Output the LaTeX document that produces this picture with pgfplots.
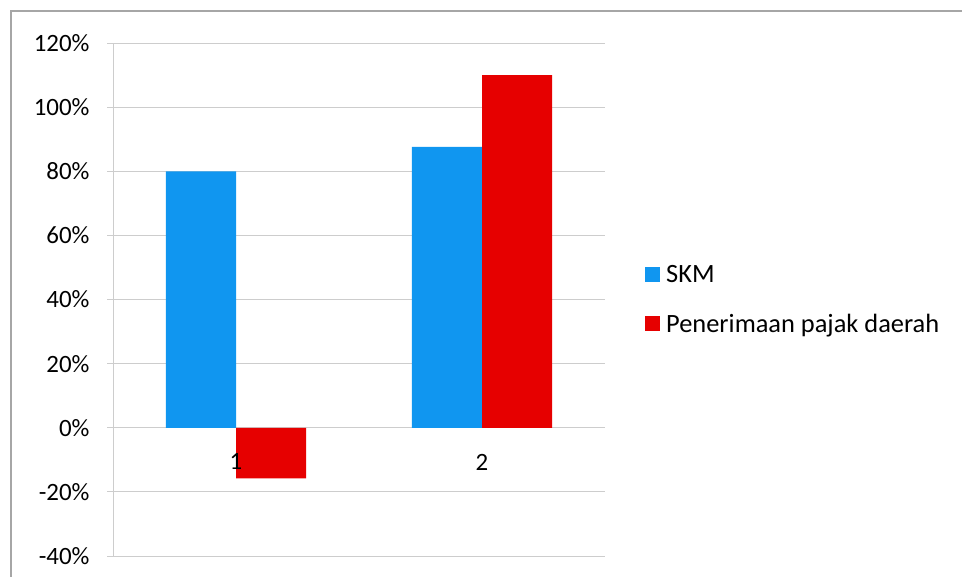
\documentclass[border=0pt]{standalone}
\usepackage{pgfplots}
\pgfplotsset{compat=1.18}
\usepackage{fontspec}
\setmainfont{Carlito}
\definecolor{skmblue}{RGB}{16,150,240}
\definecolor{pajakred}{RGB}{230,0,0}
\definecolor{gridgray}{RGB}{205,205,205}
\begin{document}
\begin{tikzpicture}[x=1bp,y=1bp]
\path[use as bounding box] (0,0) rectangle (962,-577);
% chart area frame (top and left edges)
\draw[gray!70, line width=1.6bp] (11,-600) -- (11,-11) -- (970,-11);
\begin{axis}[
  at={(113bp,-556bp)}, anchor=south west,
  scale only axis, width=492bp, height=513bp,
  xmin=0.5, xmax=2.5, ymin=-40, ymax=120,
  axis x line=middle, axis y line=left,
  axis line style={draw=gridgray, line width=0.8bp, -},
  x axis line style={draw=none},
  xtick={1,2}, xticklabels={},
  xtick style={draw=none},
  ytick={-40,-20,0,20,40,60,80,100,120},
  yticklabel={\pgfmathprintnumber{\tick}\%},
  yticklabel style={font=\fontsize{25}{30}\selectfont, xshift=-14bp},
  /pgf/number format/assume math mode=true,
  ytick style={draw=gridgray, line width=0.8bp},
  tick align=outside, major tick length=6bp,
  ymajorgrids, grid style={draw=gridgray, line width=0.8bp},
  clip=false,
  legend style={at={(axis cs:2.5,40)}, anchor=west, xshift=40bp,
    draw=none, fill=none, inner sep=0pt,
    font=\fontsize{26.5}{30}\selectfont, row sep=30bp,
    legend cell align=left,
    nodes={inner sep=0pt, anchor=west}},
  legend image code/.code={\fill[#1] (0bp,-7.5bp) rectangle (15bp,7.5bp);},
]
\addplot[ybar, bar width=0.285, bar shift=-0.1425, fill=skmblue, draw=none]
  coordinates {(1,80) (2,87.6)};
\addlegendentry{\hspace{6bp}SKM}
\addplot[ybar, bar width=0.285, bar shift=0.1425, fill=pajakred, draw=none]
  coordinates {(1,-15.8) (2,110)};
\addlegendentry{\hspace{6bp}Penerimaan pajak daerah}
% category labels sit on the zero line, above the bars
\foreach \c in {1,2}{
  \edef\temp{\noexpand\node[font=\noexpand\fontsize{25}{30}\noexpand\selectfont, anchor=north, inner sep=0pt]
    at (axis cs:\c,0) [yshift=-26bp] {\c};}
  \temp
}
\end{axis}
\end{tikzpicture}
\end{document}
